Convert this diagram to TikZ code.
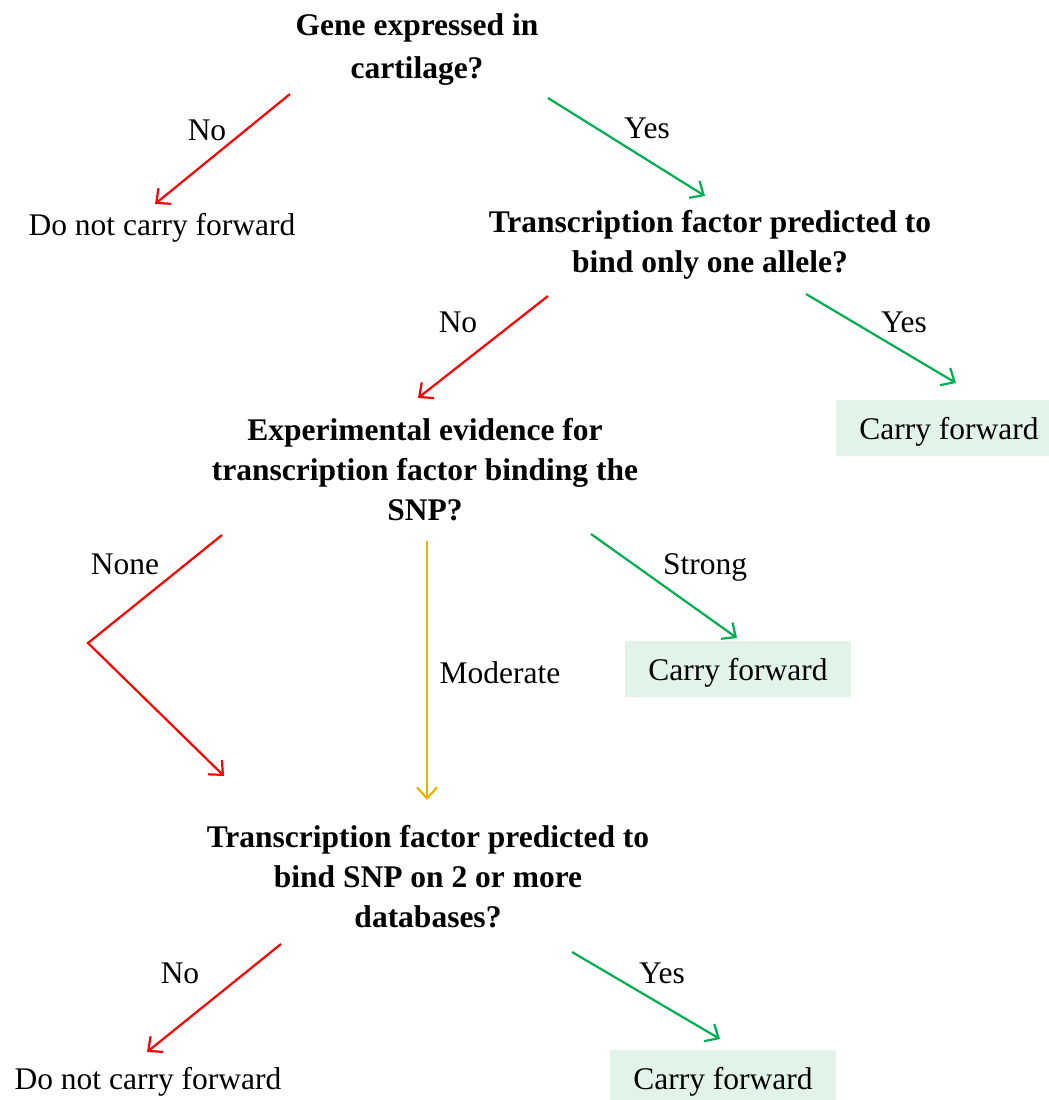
\documentclass[tikz,border=0pt]{standalone}
\usepackage{fontspec}
\setmainfont{Liberation Serif}
\usetikzlibrary{arrows.meta}
\definecolor{nored}{RGB}{255,0,0}
\definecolor{yesgreen}{RGB}{0,176,80}
\definecolor{midorange}{RGB}{240,176,0}
\definecolor{keepfill}{RGB}{226,244,234}
\begin{document}
\begin{tikzpicture}[x=1pt,y=-1pt,
  font=\fontsize{31.5}{40}\selectfont,
  question/.style={font=\fontsize{31.5}{40}\selectfont\bfseries, align=center},
  carry/.style={fill=keepfill, minimum width=226pt, minimum height=56pt, inner sep=0pt, text depth=0pt},
  branch/.style={line width=2.2pt, -{Straight Barb[length=11pt,width=20pt]}}]
  \useasboundingbox (0,0) rectangle (1049,1100);
  % questions
  \node[question, font=\fontsize{31.5}{43}\selectfont\bfseries] (gene) at (417,50) {Gene expressed in\\cartilage?};
  \node[question] (tfone) at (710,245) {Transcription factor predicted to\\bind only one allele?};
  \node[question] (evid) at (425,470) {Experimental evidence for\\transcription factor binding the\\SNP?};
  \node[question] (tfdb) at (428,877) {Transcription factor predicted to\\bind SNP on 2 or more\\databases?};
  % outcomes
  \node (nocarryA) at (162,228) {Do not carry forward};
  \node (nocarryB) at (148,1082) {Do not carry forward};
  \node[carry] (carryA) at (949,428) {Carry forward};
  \node[carry] (carryB) at (738,669) {Carry forward};
  \node[carry] (carryC) at (723,1078) {Carry forward};
  % arrow ends
  \coordinate (geneno) at (290,94);   \coordinate (genenoend) at (155,204);
  \coordinate (geneyes) at (548,98);  \coordinate (geneyesend) at (705,196);
  \coordinate (oneno) at (548,296);   \coordinate (onenoend) at (418,398);
  \coordinate (oneyes) at (806,294);  \coordinate (oneyesend) at (956,383);
  \coordinate (evnone) at (222,535);  \coordinate (evcorner) at (88,643);
  \coordinate (evnoneend) at (224,776);
  \coordinate (evmod) at (427,541);   \coordinate (evmodend) at (427,800);
  \coordinate (evstrong) at (591,534); \coordinate (evstrongend) at (737,638);
  \coordinate (dbno) at (281,944);    \coordinate (dbnoend) at (147,1052);
  \coordinate (dbyes) at (572,952);   \coordinate (dbyesend) at (720,1039);
  % branches
  \draw[branch, nored] (geneno) -- (genenoend);
  \draw[branch, yesgreen] (geneyes) -- (geneyesend);
  \draw[branch, nored] (oneno) -- (onenoend);
  \draw[branch, yesgreen] (oneyes) -- (oneyesend);
  \draw[branch, nored] (evnone) -- (evcorner) -- (evnoneend);
  \draw[branch, midorange] (evmod) -- (evmodend);
  \draw[branch, yesgreen] (evstrong) -- (evstrongend);
  \draw[branch, nored] (dbno) -- (dbnoend);
  \draw[branch, yesgreen] (dbyes) -- (dbyesend);
  % branch labels
  \node (lgeneno) at (207,130) {No};
  \node (lgeneyes) at (647,128) {Yes};
  \node (loneno) at (458,322) {No};
  \node (loneyes) at (904,322) {Yes};
  \node (lnone) at (125,564) {None};
  \node (lstrong) at (705,567) {Strong};
  \node (lmod) at (500,673) {Moderate};
  \node (ldbno) at (180,973) {No};
  \node (ldbyes) at (662,973) {Yes};
\end{tikzpicture}
\end{document}
